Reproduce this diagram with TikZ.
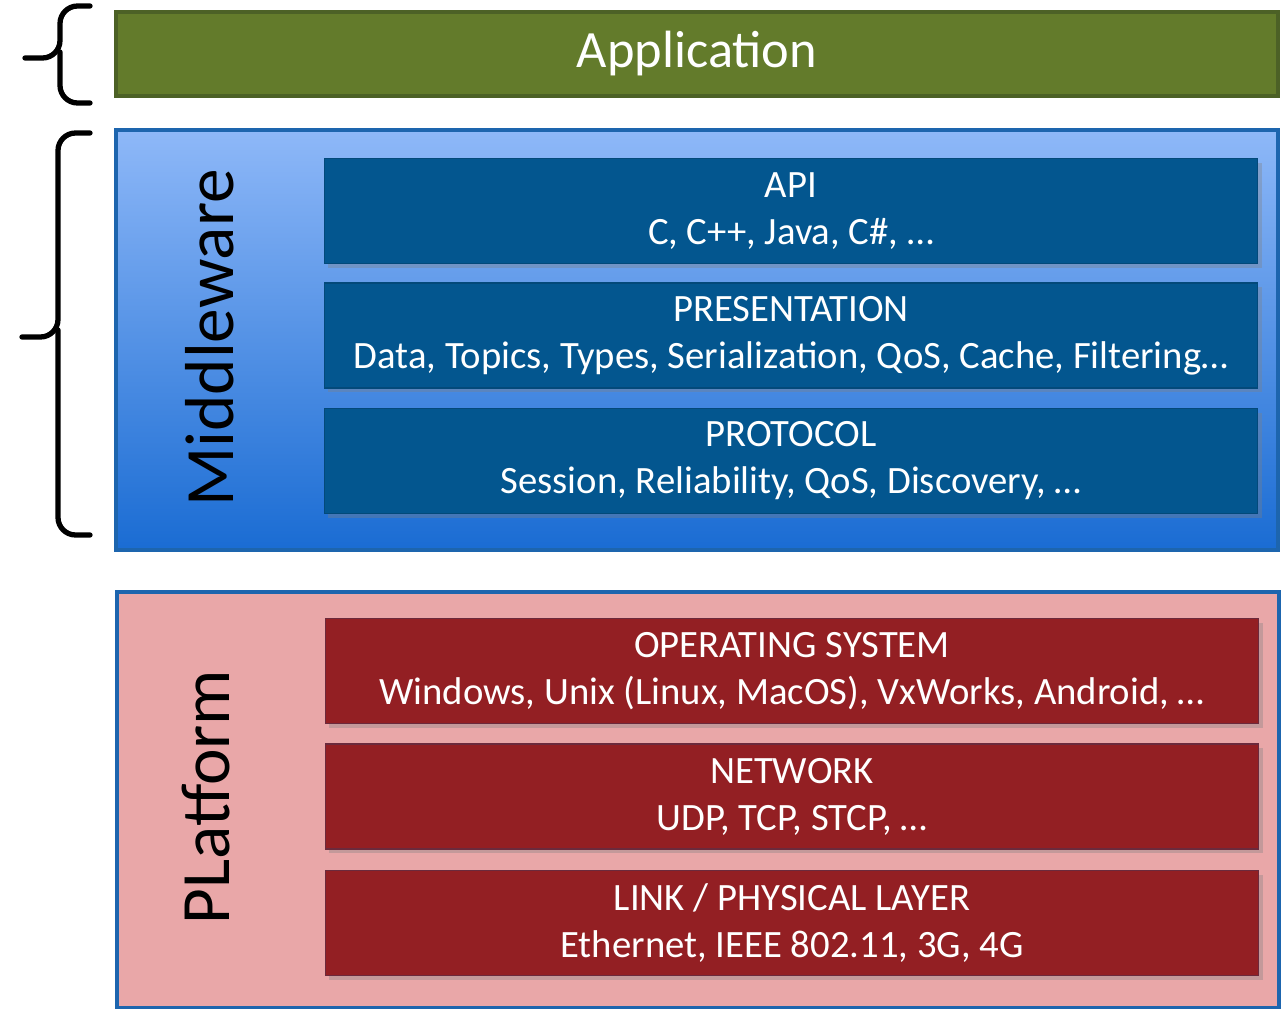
\documentclass[tikz,border=0pt]{standalone}
\usepackage{fontspec}
\setmainfont{Carlito}
\usetikzlibrary{positioning,shadows}

\definecolor{appgreen}{HTML}{637B2B}
\definecolor{appedge}{HTML}{4C6126}
\definecolor{mwtop}{HTML}{8EB8F8}
\definecolor{mwbottom}{HTML}{1A6CD3}
\definecolor{mwedge}{HTML}{1D65AE}
\definecolor{mwlayer}{HTML}{03568F}
\definecolor{pfpink}{HTML}{E9A7A8}
\definecolor{pflayer}{HTML}{931F23}
\definecolor{pflayeredge}{HTML}{6B2A3C}

\tikzset{
    layerbox/.style={text=white, align=center, minimum width=9.33cm, minimum height=1.05cm,
        font=\fontsize{11}{13.4}\selectfont,
        drop shadow={shadow xshift=1.2pt, shadow yshift=-1.2pt, opacity=0.35}},
    mwbox/.style={layerbox, fill=mwlayer, draw=mwlayer!85!black},
    pfbox/.style={layerbox, fill=pflayer, draw=pflayeredge},
    groupbox/.style={line width=1pt, minimum width=11.61cm, minimum height=4.2cm},
    grouplabel/.style={rotate=90, font=\fontsize{19.7}{22}\selectfont},
    bracket/.style={line width=1.5pt, line cap=round, rounded corners=5pt}
}

\begin{document}
\begin{tikzpicture}[x=0.01cm, y=-0.01cm]
    \useasboundingbox (0,0) rectangle (1281,1009);

    \node[draw=appedge, fill=appgreen, line width=1pt, minimum width=11.61cm, minimum height=0.84cm,
        text=white, font=\fontsize{14.9}{17}\selectfont] (app) at (697,54) {Application};

    \node[groupbox, draw=mwedge, top color=mwtop, bottom color=mwbottom] (mw) at (697,340) {};
    \node[grouplabel] (mwlabel) at (210,338) {Middleware};
    \node[mwbox] (api) at (791,211) {API\\C, C++, Java, C\#, \ldots};
    \node[mwbox, below=0.18cm of api] (pres) {PRESENTATION\\Data, Topics, Types, Serialization, QoS, Cache, Filtering\ldots};
    \node[mwbox, below=0.19cm of pres] (prot) {PROTOCOL\\Session, Reliability, QoS, Discovery, \ldots};

    \node[groupbox, draw=mwedge, fill=pfpink, minimum height=4.16cm] (pf) at (698,800) {};
    \node[grouplabel] (pflabel) at (206,797) {PLatform};
    \node[pfbox] (os) at (792,671) {OPERATING SYSTEM\\Windows, Unix (Linux, MacOS), VxWorks, Android, \ldots};
    \node[pfbox, below=0.19cm of os] (net) {NETWORK\\UDP, TCP, STCP, \ldots};
    \node[pfbox, below=0.2cm of net] (link) {LINK / PHYSICAL LAYER\\Ethernet, IEEE 802.11, 3G, 4G};

    \draw[bracket] (90,6) -- (60,6) -- (60,58) -- (25,58);
    \draw[bracket] (60,52) -- (60,103) -- (90,103);
    \draw[bracket] (90,133) -- (58,133) -- (58,337) -- (22,337);
    \draw[bracket] (58,330) -- (58,535) -- (90,535);
\end{tikzpicture}
\end{document}
